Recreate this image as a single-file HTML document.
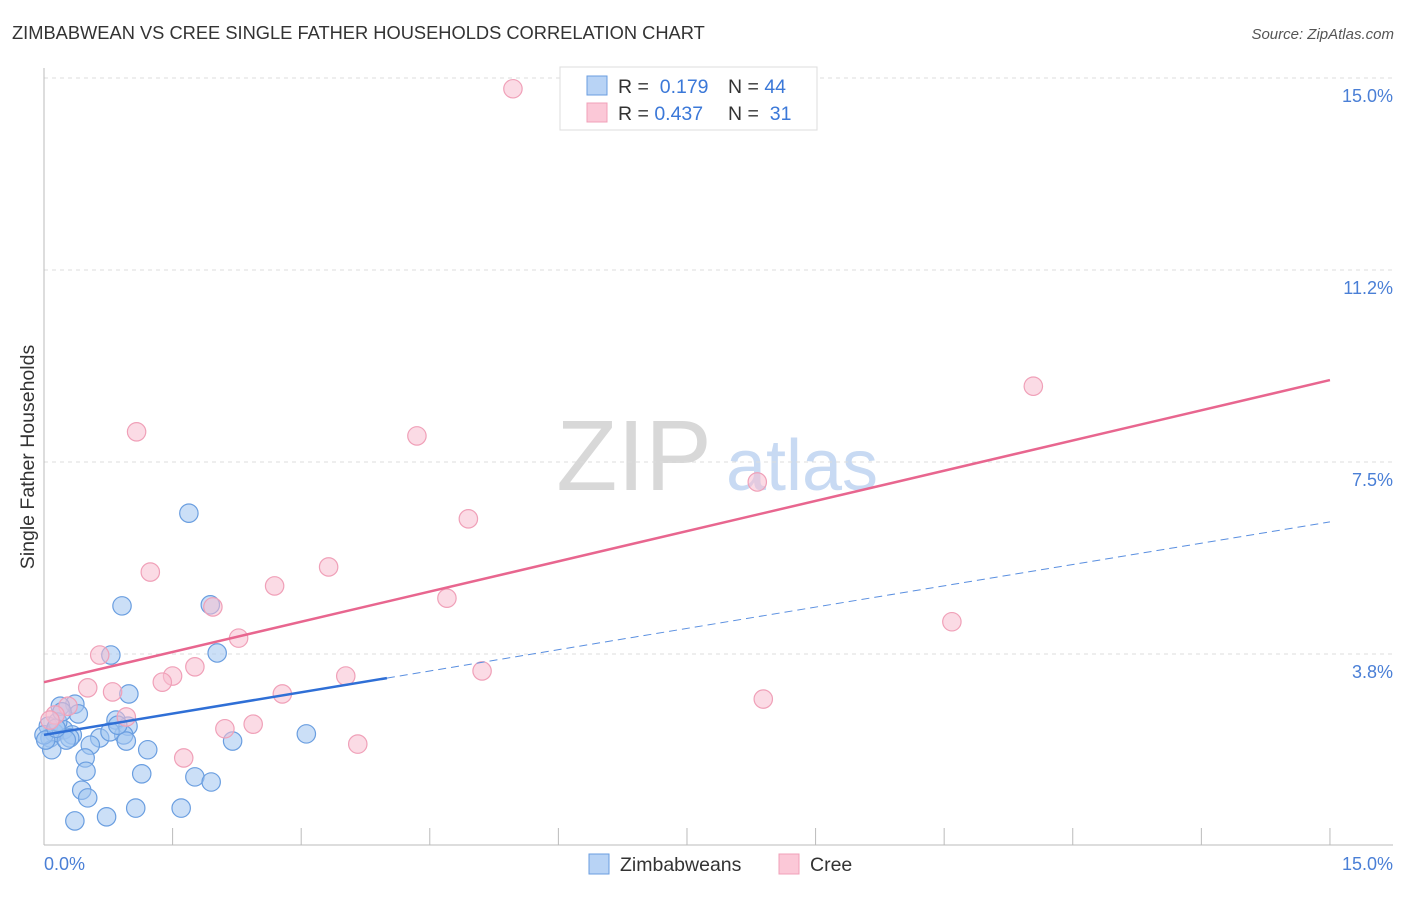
<!DOCTYPE html>
<html><head><meta charset="utf-8"><style>
body{margin:0;background:#fff;font-family:"Liberation Sans",sans-serif;}
svg text{font-family:"Liberation Sans",sans-serif;}
</style></head><body>
<svg id="chart" width="1406" height="892">
<text x="12" y="39" font-size="18.3" fill="#333">ZIMBABWEAN VS CREE SINGLE FATHER HOUSEHOLDS CORRELATION CHART</text>
<text x="1394" y="39" font-size="15" fill="#555" font-style="italic" text-anchor="end">Source: ZipAtlas.com</text>
<text transform="translate(34,457) rotate(-90)" font-size="19.5" fill="#333" text-anchor="middle">Single Father Households</text>
<g>
<text x="634" y="490" font-size="100" fill="#d8d8d8" font-family="Liberation Serif" text-anchor="middle">ZIP</text>
<text x="802" y="490" font-size="72" fill="#c8daf3" text-anchor="middle">atlas</text>
</g>
<g id="grid"></g>
<line x1="44" y1="68" x2="44" y2="845" stroke="#bbb"/>
<line x1="44" y1="845" x2="1393" y2="845" stroke="#bbb"/>
<g id="xticks"></g>
<text x="44" y="870" font-size="18" fill="#4a7fd6">0.0%</text>
<text x="1393" y="870" font-size="18" fill="#4a7fd6" text-anchor="end">15.0%</text>
<g id="pts"></g>
<g id="trends"></g>
<g>
<rect x="560" y="67" width="257" height="63" fill="#fff" stroke="#ddd"/>
<rect x="587" y="76" width="20" height="19" fill="#b8d3f5" stroke="#6a9ee0"/>
<rect x="587" y="103" width="20" height="19" fill="#fbc8d7" stroke="#f0a0b8"/>
<text x="618" y="93" font-size="19.5" fill="#333">R = <tspan fill="#3b78d8">&#160;0.179</tspan><tspan x="728">N = </tspan><tspan fill="#3b78d8">44</tspan></text>
<text x="618" y="120" font-size="19.5" fill="#333">R = <tspan fill="#3b78d8">0.437</tspan><tspan x="728">N = </tspan><tspan fill="#3b78d8">&#160;31</tspan></text>
</g>
<g>
<rect x="589" y="854" width="20" height="20" fill="#b8d3f5" stroke="#6a9ee0"/>
<text x="620" y="871" font-size="19.5" fill="#333">Zimbabweans</text>
<rect x="779" y="854" width="20" height="20" fill="#fbc8d7" stroke="#f0a0b8"/>
<text x="810" y="871" font-size="19.5" fill="#333">Cree</text>
</g>
</svg>
<script>
const yTicks=[3.75,7.5,11.25,15];
const yTickLabels=["3.8%","7.5%","11.2%","15.0%"];
const xTickVals=[0,1.5,3,4.5,6,7.5,9,10.5,12,13.5,15];
const blueX=[1.69,0.91,1.94,0.78,2.02,0.99,0.36,0.19,0.40,0.84,0.98,0.05,0.23,0.12,0.33,0.65,0.93,0.96,0.07,0.54,2.20,3.06,1.21,0.09,0.48,0.49,1.14,1.76,1.95,0.44,0.51,1.07,1.60,0.73,0.36,0.00,0.30,0.16,0.77,0.26,0.02,0.14,0.21,0.86];
const blueY=[6.50,4.69,4.71,3.73,3.77,2.97,2.77,2.73,2.58,2.46,2.34,2.34,2.27,2.21,2.17,2.11,2.17,2.05,2.11,1.97,2.05,2.19,1.88,1.88,1.72,1.46,1.41,1.35,1.25,1.09,0.94,0.74,0.74,0.57,0.49,2.17,2.11,2.42,2.23,2.07,2.07,2.30,2.62,2.36];
const pinkX=[5.47,11.54,1.08,4.35,8.32,4.95,1.24,3.32,2.69,4.70,1.97,2.27,10.59,0.65,1.76,1.50,1.38,3.52,5.11,0.51,0.80,2.78,8.39,0.28,0.13,0.96,2.44,2.11,1.63,3.66,0.07];
const pinkY=[14.79,8.98,8.09,8.01,7.11,6.39,5.35,5.45,5.08,4.84,4.67,4.06,4.38,3.73,3.50,3.32,3.20,3.32,3.42,3.09,3.01,2.97,2.87,2.73,2.56,2.52,2.38,2.29,1.72,1.99,2.46];
const blueTrend=[2.17,6.33];
const blueSolidEnd=4.0;
const pinkTrend=[3.2,9.1];
const NS="http://www.w3.org/2000/svg";
const X=v=>44+v*85.73;
const Y=v=>846-v*51.2;
function mk(tag,attrs,parent){const e=document.createElementNS(NS,tag);for(const k in attrs)e.setAttribute(k,attrs[k]);document.getElementById(parent).appendChild(e);return e;}
yTicks.forEach((t,i)=>{
 const l=mk('line',{x1:44,x2:1393,y1:Y(t),y2:Y(t),stroke:'#ddd','stroke-dasharray':'4,4'},'grid');
 
 
 const tx=mk('text',{x:1393,y:Y(t)+24,'font-size':18,fill:'#4a7fd6','text-anchor':'end'},'grid');
 tx.textContent=yTickLabels[i];
 
 
});
xTickVals.forEach(v=>{
 const l=mk('line',{x1:X(v),x2:X(v),y1:828,y2:845,stroke:'#bbb'},'xticks');
 
 
});
blueX.forEach((x,i)=>{
 const c=mk('circle',{cx:X(x),cy:Y(blueY[i]),r:9.2,fill:'rgba(160,196,240,0.55)',stroke:'#6a9ee0','stroke-width':1.2},'pts');
 
 
});
pinkX.forEach((x,i)=>{
 const c=mk('circle',{cx:X(x),cy:Y(pinkY[i]),r:9.2,fill:'rgba(248,190,208,0.55)',stroke:'#f0a0b8','stroke-width':1.2},'pts');
 
 
});
const by=v=>blueTrend[0]+(blueTrend[1]-blueTrend[0])*v/15;
let t=mk('line',{x1:X(0),y1:Y(pinkTrend[0]),x2:X(15),y2:Y(pinkTrend[1]),stroke:'#e8668f','stroke-width':2.5},'trends');


t=mk('line',{x1:X(0),y1:Y(by(0)),x2:X(blueSolidEnd),y2:Y(by(blueSolidEnd)),stroke:'#2f6fd6','stroke-width':2.5},'trends');


t=mk('line',{x1:X(blueSolidEnd),y1:Y(by(blueSolidEnd)),x2:X(15),y2:Y(by(15)),stroke:'#5a8fe0','stroke-width':1,'stroke-dasharray':'8,5'},'trends');


</script>
</body></html>
